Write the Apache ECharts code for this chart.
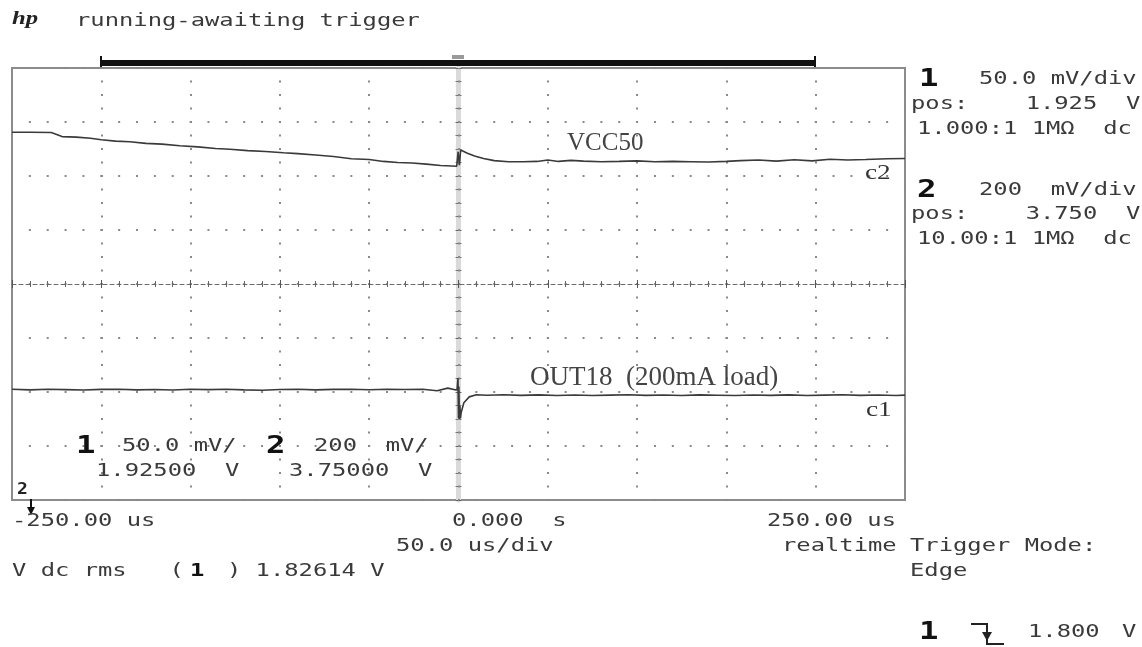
<!DOCTYPE html>
<html>
<head>
<meta charset="utf-8">
<title>VCC50 / OUT18 load step</title>
<script src="https://cdn.jsdelivr.net/npm/echarts@6/dist/echarts.min.js"></script>
<style>
    html, body { margin:0; padding:0; background:#fff; }
    #scope { width:1142px; height:647px; }
</style>
</head>
<body>
<div id="scope"></div>
<script>
// scope settings
var TIME_DIV = 50;                     // us/div, 10 divisions
var CH1_POS = 1.925, CH1_DIV = 0.05;   // OUT18, V and V/div
var CH2_POS = 3.750, CH2_DIV = 0.2;    // VCC50, V and V/div

// channel 2 : VCC50 (time in us, value in V)
var vccTime = [-250,-240,-228,-222,-214,-206,-200,-192,-184,-175,-166,-156,-146,-136,-128,-118,-108,-98,-90,-80,
    -70,-60,-50,-42,-34,-26,-18,-10,-4,-1,-0.2,0.5,1.2,2,5,9,14,20,28,36,44,50,
    56,63,70,80,90,100,110,120,130,140,150,158,168,178,188,198,208,218,228,240,250];
var vccVolt = [4.312,4.312,4.311,4.296,4.294,4.290,4.284,4.279,4.277,4.271,4.268,4.262,4.258,4.252,4.249,4.244,4.241,4.236,4.233,4.228,
    4.222,4.214,4.211,4.204,4.200,4.198,4.194,4.189,4.187,4.186,4.240,4.190,4.246,4.244,4.234,4.224,4.215,4.207,4.203,4.203,4.204,4.209,
    4.204,4.208,4.205,4.203,4.204,4.206,4.203,4.204,4.203,4.202,4.204,4.207,4.209,4.205,4.210,4.206,4.212,4.209,4.211,4.214,4.215];

// channel 1 : OUT18 (200mA load)
var outTime = [-250,-240,-230,-220,-210,-200,-190,-180,-170,-160,-150,-140,-130,-120,-110,-100,-90,-80,-70,-60,
    -50,-40,-30,-20,-12,-6,-2,-0.8,-0.3,0,0.2,0.5,0.8,1.1,1.5,3,6,10,16,25,35,45,55,
    65,75,85,95,105,115,125,135,145,155,165,175,185,195,205,215,225,235,245,250];
var outVolt = [1.8275,1.8270,1.8276,1.8272,1.8268,1.8274,1.8276,1.8270,1.8273,1.8268,1.8275,1.8272,1.8276,1.8270,1.8266,1.8273,1.8275,1.8270,1.8274,1.8276,
    1.8271,1.8275,1.8273,1.8276,1.8262,1.8286,1.8270,1.8272,1.8380,1.8010,1.8300,1.8000,1.8120,1.8005,1.8060,1.8150,1.8205,1.8225,1.8220,1.8224,1.8219,1.8223,1.8218,
    1.8222,1.8217,1.8221,1.8224,1.8219,1.8222,1.8218,1.8223,1.8220,1.8217,1.8222,1.8219,1.8223,1.8218,1.8221,1.8224,1.8219,1.8222,1.8218,1.8221];

var MONO = '"DejaVu Sans Mono", "Liberation Mono", monospace';
var SERIF = '"Liberation Serif", "DejaVu Serif", serif';

// scope font is wide: stretch a mono font to a 14.3px pitch
function txt(x, y, str, o) {
    o = o || {};
    return {
        type: 'text', x: x, y: y, scaleX: o.sx || 1.4, z: 20,
        style: {
            text: str,
            fontFamily: o.family || MONO,
            fontSize: o.size || 17,
            fontWeight: o.weight || 'normal',
            fontStyle: o.italic ? 'italic' : 'normal',
            fill: o.fill || '#3a3a3a',
            align: 'left', verticalAlign: 'middle'
        }
    };
}
function big(x, y, str) {
    return txt(x, y, str, { size: 24, weight: 'bold', sx: 1.35, fill: '#111' });
}

function pairs(t, v) {
    return t.map(function (x, i) { return [x, v[i]]; });
}

var dotV = { color: '#8a8a8a', width: 2, type: [2, 11.5], dashOffset: 1 };
var dotH = { color: '#8a8a8a', width: 2, type: [2, 15.86], dashOffset: 1 };
var noLabel = { show: false };

var chart = echarts.init(document.getElementById('scope'));
chart.setOption({
    animation: false,
    backgroundColor: '#fff',
    grid: {
        left: 12, top: 68, width: 893, height: 432,
        show: true, borderColor: '#8c8c8c', borderWidth: 2, backgroundColor: 'transparent'
    },
    xAxis: [{
        type: 'value', min: -5 * TIME_DIV, max: 5 * TIME_DIV, interval: TIME_DIV, z: 1,
        axisLine: { onZero: true, onZeroAxisIndex: 0, lineStyle: { color: '#6a6a6a', width: 1, type: [4, 3] } },
        axisTick: { show: true, length: 4, lineStyle: { color: '#555' } },
        minorTick: { show: true, splitNumber: 5, length: 3, lineStyle: { color: '#666' } },
        axisLabel: noLabel,
        splitLine: { show: true, lineStyle: dotV }
    }, {
        type: 'value', min: -5 * TIME_DIV, max: 5 * TIME_DIV, interval: TIME_DIV, position: 'top', z: 1,
        axisLine: { show: false, onZero: true, onZeroAxisIndex: 0 },
        axisTick: { show: true, length: 4, lineStyle: { color: '#555' } },
        minorTick: { show: true, splitNumber: 5, length: 3, lineStyle: { color: '#666' } },
        axisLabel: noLabel,
        splitLine: { show: false }
    }],
    yAxis: [{
        type: 'value', min: -4, max: 4, interval: 1, z: 0,
        axisLine: { onZero: true, onZeroAxisIndex: 0, lineStyle: { color: '#dadada', width: 5 } },
        axisTick: { show: true, length: 3, lineStyle: { color: '#666' } },
        minorTick: { show: true, splitNumber: 4, length: 3, lineStyle: { color: '#777' } },
        axisLabel: noLabel,
        splitLine: { show: true, lineStyle: dotH }
    }, {
        type: 'value', show: false, min: CH1_POS - 4 * CH1_DIV, max: CH1_POS + 4 * CH1_DIV
    }, {
        type: 'value', show: false, min: CH2_POS - 4 * CH2_DIV, max: CH2_POS + 4 * CH2_DIV
    }, {
        type: 'value', min: -4, max: 4, interval: 1, position: 'right', z: 0,
        axisLine: { show: false, onZero: true, onZeroAxisIndex: 0 },
        axisTick: { show: true, length: 3, lineStyle: { color: '#666' } },
        minorTick: { show: true, splitNumber: 4, length: 3, lineStyle: { color: '#777' } },
        axisLabel: noLabel,
        splitLine: { show: false }
    }],
    series: [{
        name: 'VCC50', type: 'line', yAxisIndex: 2, z: 5,
        symbol: 'none', data: pairs(vccTime, vccVolt),
        lineStyle: { color: '#3a3a3a', width: 1.6 }
    }, {
        name: 'OUT18', type: 'line', yAxisIndex: 1, z: 5,
        symbol: 'none', data: pairs(outTime, outVolt),
        lineStyle: { color: '#3a3a3a', width: 1.6 }
    }],
    graphic: [
        // header
        txt(12, 19, 'hp', { family: SERIF, italic: true, weight: 'bold', size: 19, sx: 1.3, fill: '#222' }),
        txt(76, 22, 'running-awaiting trigger'),
        // memory bar above the graticule
        { type: 'rect', z: 20, shape: { x: 101, y: 60, width: 714, height: 6 }, style: { fill: '#111' } },
        { type: 'line', z: 20, shape: { x1: 101, y1: 56, x2: 101, y2: 67 }, style: { stroke: '#111', lineWidth: 2 } },
        { type: 'line', z: 20, shape: { x1: 815, y1: 56, x2: 815, y2: 67 }, style: { stroke: '#111', lineWidth: 2 } },
        { type: 'rect', z: 21, shape: { x: 452, y: 55, width: 12, height: 4 }, style: { fill: '#999' } },
        // trace labels
        txt(567, 143, 'VCC50', { family: SERIF, size: 25, sx: 1, fill: '#444' }),
        txt(530, 378, 'OUT18  (200mA load)', { family: SERIF, size: 27, sx: 1, fill: '#444' }),
        txt(865, 173, 'c2', { family: SERIF, size: 21, sx: 1.3, fill: '#333' }),
        txt(866, 410, 'c1', { family: SERIF, size: 21, sx: 1.3, fill: '#333' }),
        // channel settings on the right
        big(919, 80, '1'),
        txt(979, 80, '50.0 mV/div'),
        txt(911, 105, 'pos:    1.925  V'),
        txt(917, 130, '1.000:1 1M\u03a9  dc'),
        big(917, 191, '2'),
        txt(979, 191, '200  mV/div'),
        txt(911, 215, 'pos:    3.750  V'),
        txt(917, 240, '10.00:1 1M\u03a9  dc'),
        // channel readout inside the graticule
        big(76, 447, '1'),
        txt(122, 447, '50.0 mV/'),
        big(266, 447, '2'),
        txt(314, 447, '200  mV/'),
        txt(96, 472, '1.92500  V'),
        txt(289, 472, '3.75000  V'),
        // ch2 reference marker (off screen below)
        txt(17, 490, '2', { size: 15, weight: 'bold', sx: 1.2, fill: '#222' }),
        { type: 'line', z: 20, shape: { x1: 31, y1: 499, x2: 31, y2: 510 }, style: { stroke: '#111', lineWidth: 2 } },
        { type: 'polygon', z: 20, shape: { points: [[27, 507], [35, 507], [31, 515]] }, style: { fill: '#111' } },
        // time axis
        txt(12, 522, '-250.00 us'),
        txt(452, 522, '0.000  s'),
        txt(767, 522, '250.00 us'),
        txt(396, 547, '50.0 us/div'),
        txt(782, 547, 'realtime'),
        txt(910, 547, 'Trigger Mode:'),
        txt(910, 572, 'Edge'),
        txt(12, 572, 'V dc rms   (   ) 1.82614 V'),
        txt(190, 572, '1', { weight: 'bold', fill: '#111' }),
        // trigger setting
        big(919, 633, '1'),
        { type: 'polyline', z: 20, shape: { points: [[971, 624], [987, 624], [987, 644], [1004, 644]] }, style: { stroke: '#222', lineWidth: 2, fill: null } },
        { type: 'polygon', z: 20, shape: { points: [[982, 632], [992, 632], [987, 641]] }, style: { fill: '#222' } },
        txt(1028, 633, '1.800'),
        txt(1122, 633, 'V')
    ]
});
</script>
</body>
</html>
